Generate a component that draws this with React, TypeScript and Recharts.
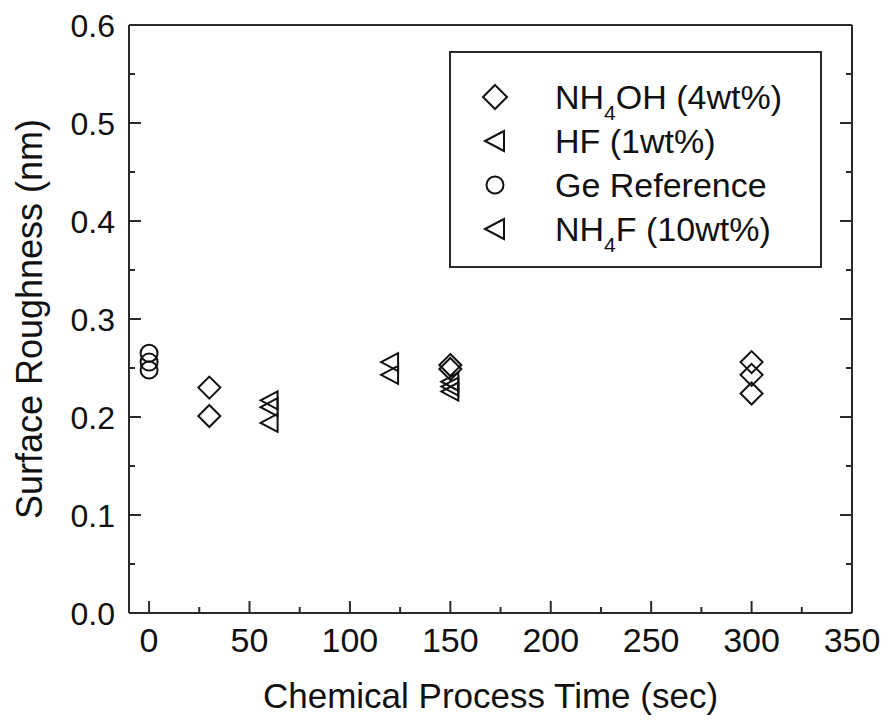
import { ScatterChart, Scatter, XAxis, YAxis } from 'recharts'

const NH4OH_TIME = [30, 30, 150, 150, 300, 300, 300]
const NH4OH_ROUGH = [0.23, 0.201, 0.253, 0.249, 0.256, 0.243, 0.224]
const HF_TIME = [60, 60, 150, 150]
const HF_ROUGH = [0.217, 0.194, 0.236, 0.226]
const GE_TIME = [0, 0, 0]
const GE_ROUGH = [0.265, 0.256, 0.248]
const NH4F_TIME = [60, 120, 120, 150]
const NH4F_ROUGH = [0.21, 0.256, 0.243, 0.231]

const X_TICKS = [0, 25, 50, 75, 100, 125, 150, 175, 200, 225, 250, 275, 300, 325, 350]
const Y_TICKS = [0, 0.05, 0.1, 0.15, 0.2, 0.25, 0.3, 0.35, 0.4, 0.45, 0.5, 0.55, 0.6]

const INK = '#111'
const AXIS = '#2a2a2a'
const FONT = '"Liberation Sans", Arial, Helvetica, sans-serif'

const zip = (xs: number[], ys: number[]) => xs.map((t, i) => ({ time: t, rough: ys[i] }))

const isMajorX = (v: number) => v % 50 === 0
const isMajorY = (v: number) => Math.round(v * 100) % 10 === 0

// markers
const Diamond = ({ cx, cy, r = 11 }: any) => (
  <path
    d={`M${cx},${cy - r}L${cx + r},${cy}L${cx},${cy + r}L${cx - r},${cy}Z`}
    fill="none"
    stroke={INK}
    strokeWidth={2}
  />
)
const LeftTri = ({ cx, cy, r = 9 }: any) => (
  <path
    d={`M${cx - r},${cy}L${cx + r - 1},${cy - r}L${cx + r - 1},${cy + r}Z`}
    fill="none"
    stroke={INK}
    strokeWidth={2}
  />
)
const Ring = ({ cx, cy, r = 8.5 }: any) => (
  <circle cx={cx} cy={cy} r={r} fill="none" stroke={INK} strokeWidth={2} />
)

// inward ticks on all four sides
const BottomTick = ({ x, y, payload }: any) => {
  const major = isMajorX(payload.value)
  return (
    <g>
      <line x1={x} y1={y} x2={x} y2={y - (major ? 12 : 6)} stroke={AXIS} strokeWidth={2} />
      {major && (
        <text x={x} y={y + 15} dy="0.71em" textAnchor="middle" fontSize={34} fontFamily={FONT} fill={INK}>
          {payload.value}
        </text>
      )}
    </g>
  )
}
const TopTick = ({ x, y, payload }: any) => (
  <line x1={x} y1={y} x2={x} y2={y + (isMajorX(payload.value) ? 12 : 6)} stroke={AXIS} strokeWidth={2} />
)
const LeftTick = ({ x, y, payload }: any) => {
  const major = isMajorY(payload.value)
  return (
    <g>
      <line x1={x} y1={y} x2={x + (major ? 12 : 6)} y2={y} stroke={AXIS} strokeWidth={2} />
      {major && (
        <text x={x - 14} y={y} dy="0.36em" textAnchor="end" fontSize={32} fontFamily={FONT} fill={INK}>
          {payload.value.toFixed(1)}
        </text>
      )}
    </g>
  )
}
const RightTick = ({ x, y, payload }: any) => (
  <line x1={x} y1={y} x2={x - (isMajorY(payload.value) ? 12 : 6)} y2={y} stroke={AXIS} strokeWidth={2} />
)

const LEGEND_ROWS = [
  { Mark: Diamond, r: 12, text: ['NH', '4', 'OH (4wt%)'] },
  { Mark: LeftTri, r: 10, text: ['HF (1wt%)'] },
  { Mark: Ring, r: 8.5, text: ['Ge Reference'] },
  { Mark: LeftTri, r: 10, text: ['NH', '4', 'F (10wt%)'] },
]

function LegendBox() {
  return (
    <div
      style={{
        position: 'absolute',
        left: 449,
        top: 51,
        width: 373,
        height: 217,
        boxSizing: 'border-box',
        border: `2px solid ${AXIS}`,
        background: '#fff',
        fontFamily: FONT,
        color: INK,
      }}
    >
      {LEGEND_ROWS.map((row, i) => (
        <div key={i} style={{ position: 'absolute', left: 0, top: 22 + i * 44, height: 44, width: '100%' }}>
          <svg width={30} height={30} style={{ position: 'absolute', left: 29, top: 7 }}>
            <row.Mark cx={15} cy={15} r={row.r} />
          </svg>
          <div style={{ position: 'absolute', left: 104, top: 2, fontSize: 34, lineHeight: '40px', whiteSpace: 'nowrap' }}>
            {row.text.length === 1 ? (
              row.text[0]
            ) : (
              <>
                {row.text[0]}
                <span style={{ fontSize: 21, position: 'relative', top: 11 }}>{row.text[1]}</span>
                {row.text[2]}
              </>
            )}
          </div>
        </div>
      ))}
    </div>
  )
}

export default function App() {
  return (
    <div style={{ position: 'absolute', left: 0, top: 0, width: 886, height: 720, background: '#fff' }}>
      <ScatterChart width={886} height={720} margin={{ top: 24, right: 33, bottom: 0, left: 0 }}>
        <XAxis
          dataKey="time"
          type="number"
          domain={[-10, 350]}
          ticks={X_TICKS}
          interval={0}
          height={107}
          tickSize={0}
          tickMargin={0}
          tickLine={false}
          tick={BottomTick}
          axisLine={{ stroke: AXIS, strokeWidth: 2 }}
          allowDataOverflow
          label={{
            value: 'Chemical Process Time (sec)',
            position: 'insideBottom',
            offset: 12,
            fontSize: 35,
            fontFamily: FONT,
            fill: INK,
          }}
        />
        <XAxis
          xAxisId="top"
          orientation="top"
          type="number"
          domain={[-10, 350]}
          ticks={X_TICKS}
          interval={0}
          height={1}
          tickSize={0}
          tickMargin={0}
          tickLine={false}
          tick={TopTick}
          axisLine={{ stroke: AXIS, strokeWidth: 2 }}
          allowDataOverflow
        />
        <YAxis
          dataKey="rough"
          type="number"
          domain={[0, 0.6]}
          ticks={Y_TICKS}
          interval={0}
          width={129}
          tickSize={0}
          tickMargin={0}
          tickLine={false}
          tick={LeftTick}
          axisLine={{ stroke: AXIS, strokeWidth: 2 }}
          allowDataOverflow
          label={{
            content: ({ viewBox }: any) => (
              <text
                x={42}
                y={viewBox.y + viewBox.height / 2}
                transform={`rotate(-90, 42, ${viewBox.y + viewBox.height / 2})`}
                textAnchor="middle"
                fontSize={36}
                fontFamily={FONT}
                fill={INK}
              >
                Surface Roughness (nm)
              </text>
            ),
          }}
        />
        <YAxis
          yAxisId="right"
          orientation="right"
          type="number"
          domain={[0, 0.6]}
          ticks={Y_TICKS}
          interval={0}
          width={1}
          tickSize={0}
          tickMargin={0}
          tickLine={false}
          tick={RightTick}
          axisLine={{ stroke: AXIS, strokeWidth: 2 }}
          allowDataOverflow
        />
        <Scatter name="NH4OH (4wt%)" data={zip(NH4OH_TIME, NH4OH_ROUGH)} shape={Diamond} isAnimationActive={false} />
        <Scatter name="HF (1wt%)" data={zip(HF_TIME, HF_ROUGH)} shape={LeftTri} isAnimationActive={false} />
        <Scatter name="Ge Reference" data={zip(GE_TIME, GE_ROUGH)} shape={Ring} isAnimationActive={false} />
        <Scatter name="NH4F (10wt%)" data={zip(NH4F_TIME, NH4F_ROUGH)} shape={LeftTri} isAnimationActive={false} />
      </ScatterChart>
      <LegendBox />
    </div>
  )
}
